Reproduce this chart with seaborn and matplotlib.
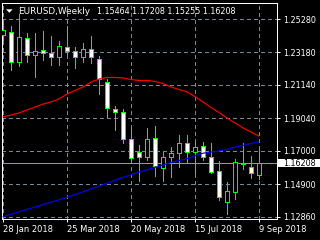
import matplotlib
matplotlib.use("Agg")
import matplotlib.pyplot as plt
import matplotlib.transforms as mtransforms
from matplotlib.patches import Polygon, Rectangle
import seaborn as sns
import pandas as pd
import numpy as np

# ---------------- data ----------------
symbol = "EURUSD,Weekly"
title_values = "1.15464 1.17208 1.15255 1.16208"
week_labels = ["28 Jan 2018", "25 Mar 2018", "20 May 2018", "15 Jul 2018", "9 Sep 2018"]
label_bars = [0, 8, 16, 24, 32]

opens = [1.2428, 1.2446, 1.2258, 1.2409, 1.2302, 1.2333, 1.2314, 1.2289, 1.2352, 1.2327,
         1.2289, 1.2340, 1.2277, 1.2132, 1.1963, 1.1944, 1.1774, 1.1693, 1.1661, 1.1781,
         1.1592, 1.1661, 1.1686, 1.1749, 1.1693, 1.1730, 1.1661, 1.1573, 1.1379, 1.1442,
         1.1617, 1.1599, 1.15464]
highs = [1.2528, 1.2484, 1.2559, 1.2440, 1.2440, 1.2453, 1.2421, 1.2390, 1.2484, 1.2352,
         1.2377, 1.2421, 1.2296, 1.2151, 1.1982, 1.1960, 1.1844, 1.1737, 1.1844, 1.1856,
         1.1693, 1.1724, 1.1800, 1.1800, 1.1762, 1.1756, 1.1749, 1.1636, 1.1504, 1.1649,
         1.1749, 1.1668, 1.17208]
lows = [1.2396, 1.2208, 1.2233, 1.2258, 1.2164, 1.2271, 1.2239, 1.2239, 1.2302, 1.2220,
        1.2258, 1.2252, 1.2057, 1.1913, 1.1831, 1.1749, 1.1630, 1.1511, 1.1643, 1.1542,
        1.1511, 1.1536, 1.1599, 1.1630, 1.1561, 1.1643, 1.1561, 1.1391, 1.1303, 1.1398,
        1.1586, 1.1530, 1.15255]
closes = [1.2459, 1.2258, 1.2415, 1.2302, 1.2327, 1.2314, 1.2289, 1.2358, 1.2327, 1.2289,
          1.2340, 1.2289, 1.2151, 1.1969, 1.1944, 1.1774, 1.1655, 1.1661, 1.1774, 1.1605,
          1.1661, 1.1686, 1.1749, 1.1693, 1.1724, 1.1661, 1.1567, 1.1410, 1.1448, 1.1630,
          1.1624, 1.1561, 1.16208]

ma_red = [1.1914, 1.1925, 1.1938, 1.1957, 1.1975, 1.1994, 1.2007, 1.2026, 1.2057, 1.2079,
          1.2101, 1.2132, 1.2151, 1.2161, 1.2161, 1.2158, 1.2148, 1.2142, 1.2142, 1.2136,
          1.2123, 1.2101, 1.2085, 1.2070, 1.2041, 1.2007, 1.1972, 1.1941, 1.1906, 1.1875,
          1.1844, 1.1818, 1.1793]
ma_blue = [1.1286, 1.1302, 1.1317, 1.1332, 1.1347, 1.1362, 1.1378, 1.1393, 1.1408, 1.1426,
           1.1443, 1.1461, 1.1479, 1.1497, 1.1515, 1.1533, 1.1550, 1.1566, 1.1581, 1.1596,
           1.1611, 1.1627, 1.1639, 1.1651, 1.1668, 1.1685, 1.1693, 1.1699, 1.1709, 1.1723,
           1.1734, 1.1746, 1.1757]

price_ticks = [1.25280, 1.23180, 1.21140, 1.19040, 1.17000, 1.14900, 1.12860]
last_price = 1.16208

# ---------------- style ----------------
sns.set_style("ticks")
plt.rcParams["font.family"] = ["DejaVu Sans"]

PX = 0.72  # one pixel in points at 100 dpi
GREEN = "#00FF00"
GRID = "#778899"

fig = plt.figure(figsize=(3.2, 2.4), dpi=100, facecolor="black")
ax = fig.add_axes([2 / 320, 21 / 240, 275 / 320, 216 / 240])
ax.set_facecolor("black")

df = pd.DataFrame({"bar": np.arange(len(opens)), "open": opens, "high": highs,
                   "low": lows, "close": closes, "ma_red": ma_red, "ma_blue": ma_blue})
bull = df["close"] >= df["open"]
bottoms = np.minimum(df["open"], df["close"])
heights = np.maximum(np.abs(df["close"] - df["open"]), 0.00008)

# current price line
ax.axhline(last_price, color="#8C99A6", linewidth=PX, zorder=2, antialiased=False)

# candles
ax.vlines(df["bar"], df["low"], df["high"], colors=GREEN, linewidth=PX, zorder=3,
          antialiased=False)
ax.bar(df["bar"], heights, bottom=bottoms, width=0.5,
       color=np.where(bull, "black", "white"), edgecolor=GREEN, linewidth=PX,
       zorder=4, antialiased=False)

# indicator lines
sns.lineplot(data=df, x="bar", y="ma_red", color="#FF0000", linewidth=0.85, ax=ax, zorder=5)
sns.lineplot(data=df, x="bar", y="ma_blue", color="#0000FF", linewidth=0.85, ax=ax, zorder=5)

ax.set_xlim(-0.125, 34.25)
ax.set_ylim(1.1272, 1.26285)
ax.set_xlabel("")
ax.set_ylabel("")

ax.set_xticks(label_bars)
ax.set_xticklabels(week_labels, ha="left")
ax.yaxis.tick_right()
ax.set_yticks(price_ticks)
ax.set_yticklabels([f"{v:.5f}" for v in price_ticks])
ax.grid(True, color=GRID, linestyle=(0, (4, 3)), linewidth=PX, zorder=1,
        antialiased=False)
ax.set_axisbelow(True)

ax.tick_params(axis="both", colors="white", length=2.2, width=PX, direction="out")
ax.tick_params(axis="y", pad=2.2, labelsize=5.8)
ax.tick_params(axis="x", pad=2, labelsize=6)
for sp in ax.spines.values():
    sp.set_visible(True)
    sp.set_color("white")
    sp.set_linewidth(PX)

# current price label box on the price scale
y0, y1 = ax.get_ylim()
box_h = (y1 - y0) / 216 * 8
trans = mtransforms.blended_transform_factory(fig.transFigure, ax.transData)
fig.patches.append(Rectangle((278 / 320, last_price - box_h / 2), 42 / 320, box_h,
                             transform=trans, facecolor="white", edgecolor="none",
                             zorder=10))
fig.text(283 / 320, last_price, f"{last_price:.5f}", transform=trans, color="black",
         fontsize=5.8, va="center", ha="left", zorder=11)

# title
fig.patches.append(Polygon([(6 / 320, 1 - 9.3 / 240), (12.7 / 320, 1 - 9.3 / 240),
                            (9.35 / 320, 1 - 12.8 / 240)], closed=True,
                           transform=fig.transFigure, facecolor="white",
                           edgecolor="none", zorder=10))
fig.text(18 / 320, 1 - 11 / 240, symbol, color="white", fontsize=6.4,
         va="center", ha="left")
fig.text(97 / 320, 1 - 11 / 240, title_values, color="white", fontsize=5.8,
         va="center", ha="left")

fig.savefig("out.png", dpi=100, facecolor="black")
